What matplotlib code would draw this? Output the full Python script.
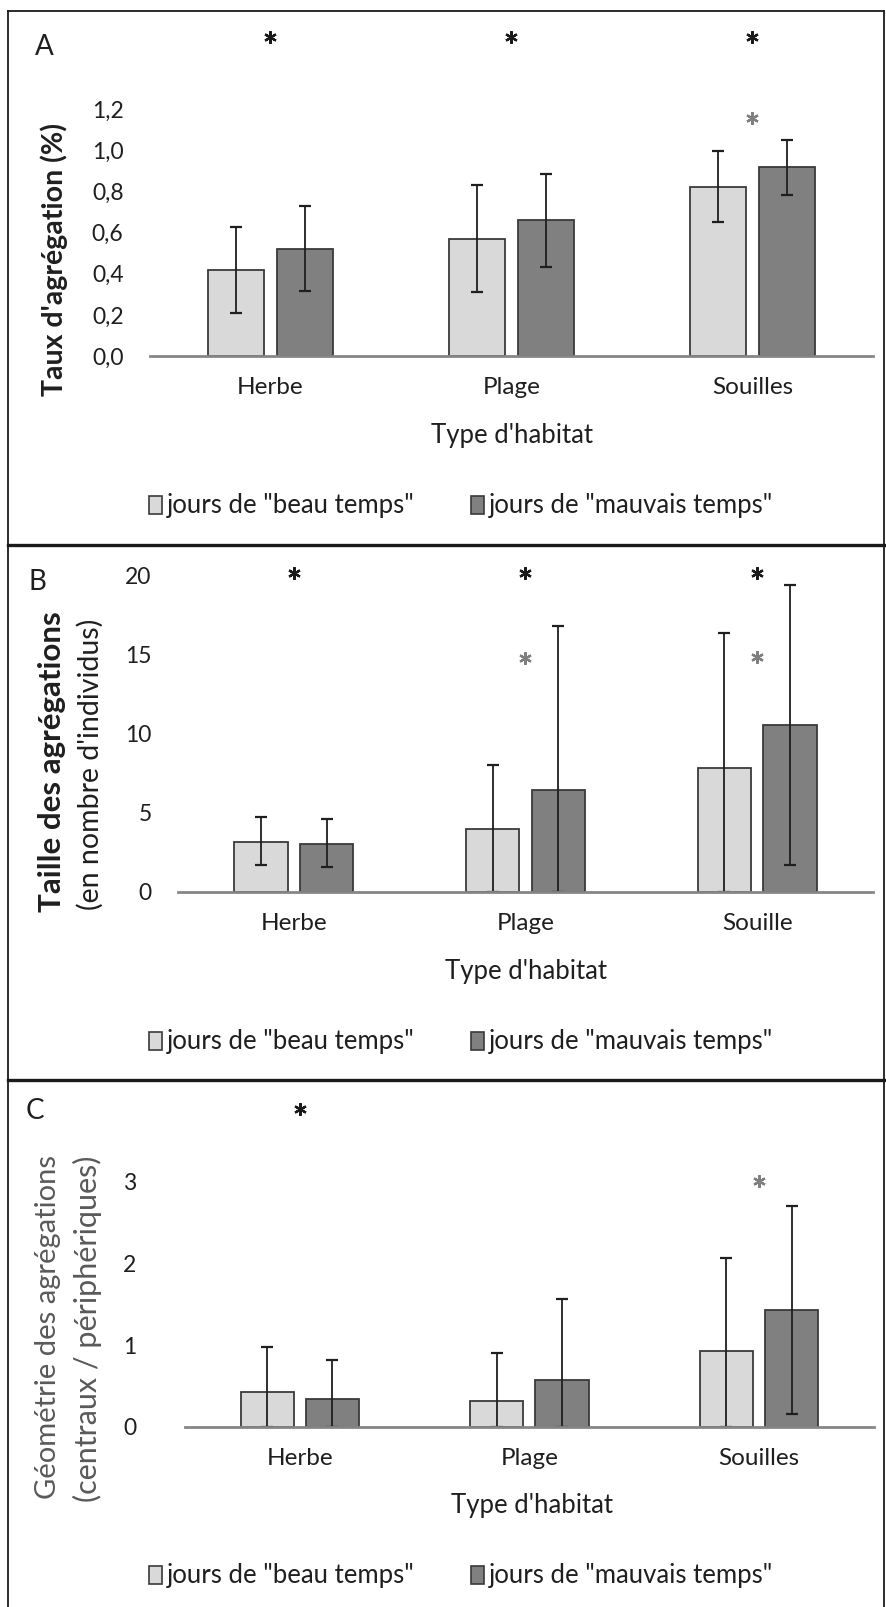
import matplotlib
matplotlib.use('Agg')
import matplotlib.pyplot as plt
from matplotlib.patches import Patch
from matplotlib.lines import Line2D
import numpy as np

plt.rcParams['font.family'] = ['Lato', 'DejaVu Sans']

# ---------------------------------------------------------------------------
# données
# ---------------------------------------------------------------------------
CATS_A = ['Herbe', 'Plage', 'Souilles']
CATS_B = ['Herbe', 'Plage', 'Souille']
CATS_C = ['Herbe', 'Plage', 'Souilles']

A_beau = [0.42, 0.57, 0.82]
A_beau_lo = [0.21, 0.31, 0.65]
A_beau_hi = [0.63, 0.83, 1.00]
A_mauv = [0.52, 0.66, 0.92]
A_mauv_lo = [0.315, 0.435, 0.785]
A_mauv_hi = [0.73, 0.885, 1.05]

B_beau = [3.16, 3.99, 7.85]
B_beau_lo = [1.67, 0.0, 0.0]
B_beau_hi = [4.73, 8.0, 16.35]
B_mauv = [3.02, 6.46, 10.57]
B_mauv_lo = [1.58, 0.0, 1.67]
B_mauv_hi = [4.62, 16.8, 19.41]

C_beau = [0.43, 0.315, 0.93]
C_beau_lo = [0.0, 0.0, 0.0]
C_beau_hi = [0.97, 0.906, 2.07]
C_mauv = [0.335, 0.57, 1.43]
C_mauv_lo = [0.0, 0.0, 0.155]
C_mauv_hi = [0.82, 1.56, 2.70]

# étoiles : (index catégorie, hauteur)
A_black_stars = [(0, 1.55), (1, 1.55), (2, 1.55)]
A_grey_stars = [(2, 1.16)]
B_black_stars = [(0, 20.2), (1, 20.2), (2, 20.2)]
B_grey_stars = [(1, 14.8), (2, 14.85)]
C_black_stars = [(0, 3.89)]
C_grey_stars = [(2, 3.01)]

A_ticks = [0.0, 0.2, 0.4, 0.6, 0.8, 1.0, 1.2]
A_ticklabels = ['0,0', '0,2', '0,4', '0,6', '0,8', '1,0', '1,2']
B_ticks = [0, 5, 10, 15, 20]
C_ticks = [0, 1, 2, 3]

LEG_LABELS = ['jours de "beau temps"', 'jours de "mauvais temps"']

# ---------------------------------------------------------------------------
W, H = 887, 1607
LIGHT = '#d9d9d9'
DARK = '#808080'
EDGE = '#3a3a3a'
TXT = '#1f1f1f'

fig = plt.figure(figsize=(W / 100, H / 100), dpi=100)


def px_axes(left, top, right, bottom):
    return fig.add_axes([left / W, 1 - bottom / H, (right - left) / W, (bottom - top) / H])


def draw_panel(ax, cats, v1, lo1, hi1, v2, lo2, hi2, ylim, ticks, ticklabels,
               ypad, black_stars, grey_stars):
    x = np.arange(len(cats))
    off, bw = 0.142, 0.232
    for xs, v, lo, hi, col in ((x - off, v1, lo1, hi1, LIGHT),
                               (x + off, v2, lo2, hi2, DARK)):
        v = np.array(v)
        ax.bar(xs, v, width=bw, color=col, edgecolor=EDGE, linewidth=1.3, zorder=2)
        ax.errorbar(xs, v, yerr=[v - np.array(lo), np.array(hi) - v], fmt='none',
                    ecolor=TXT, elinewidth=1.3, capsize=4.2, capthick=1.6, zorder=3)
    for i, yv in black_stars:
        ax.plot(i, yv, marker=(6, 2, 0), ms=9, mew=1.6, color='#1a1a1a',
                linestyle='none', clip_on=False)
    for i, yv in grey_stars:
        ax.plot(i, yv, marker=(6, 2, 0), ms=9, mew=1.6, color='#7f7f7f',
                linestyle='none', clip_on=False)
    ax.set_xlim(-0.5, len(cats) - 0.5)
    ax.set_ylim(*ylim)
    ax.set_yticks(ticks)
    ax.set_yticklabels(ticklabels)
    ax.set_xticks(x)
    ax.set_xticklabels(cats, fontsize=17.5)
    for s in ('top', 'right', 'left'):
        ax.spines[s].set_visible(False)
    ax.spines['bottom'].set_color('#868686')
    ax.spines['bottom'].set_linewidth(2.0)
    ax.spines['bottom'].set_zorder(4)
    ax.tick_params(axis='both', length=0, colors=TXT)
    ax.tick_params(axis='y', pad=ypad, labelsize=16.5)
    ax.tick_params(axis='x', pad=15)
    ax.set_facecolor('none')


def add_legend(y_px, x_px=461):
    handles = [Patch(facecolor=LIGHT, edgecolor=EDGE, linewidth=1.2),
               Patch(facecolor=DARK, edgecolor=EDGE, linewidth=1.2)]
    fig.legend(handles, LEG_LABELS, loc='center', ncol=2, frameon=False,
               bbox_to_anchor=(x_px / W, 1 - y_px / H), fontsize=18.5,
               handlelength=0.5, handleheight=0.7, handletextpad=0.2,
               columnspacing=2.2, labelcolor=TXT)


def ftext(x, y, s, **kw):
    kw.setdefault('color', TXT)
    fig.text(x / W, 1 - y / H, s, **kw)


# ---- A ----
axA = px_axes(150, 356 - 1.6 * 205.5, 873, 356)
draw_panel(axA, CATS_A, A_beau, A_beau_lo, A_beau_hi, A_mauv, A_mauv_lo, A_mauv_hi,
           (0, 1.6), A_ticks, A_ticklabels, 19, A_black_stars, A_grey_stars)
ftext(44, 47, 'A', fontsize=20, ha='center', va='center')
ftext(54, 260, "Taux d'agrégation (%)", fontsize=20.5, fontweight='bold',
      rotation=90, ha='center', va='center')
ftext(512, 435, "Type d'habitat", fontsize=18.5, ha='center', va='center')
add_legend(506)

# ---- B ----
axB = px_axes(177.7, 891.7 - 21 * 15.8, 873.3, 891.7)
draw_panel(axB, CATS_B, B_beau, B_beau_lo, B_beau_hi, B_mauv, B_mauv_lo, B_mauv_hi,
           (0, 21), B_ticks, [str(t) for t in B_ticks], 18.8, B_black_stars, B_grey_stars)
ftext(37, 582, 'B', fontsize=20, ha='center', va='center')
ftext(52, 762, 'Taille des agrégations', fontsize=22.5, fontweight='bold',
      rotation=90, ha='center', va='center')
ftext(90, 764, "(en nombre d'individus)", fontsize=20.5, rotation=90,
      ha='center', va='center')
ftext(526, 971, "Type d'habitat", fontsize=18.5, ha='center', va='center')
add_legend(1042)

# ---- C ----
axC = px_axes(185, 1426.7 - 4.2 * 81.7, 873.7, 1426.7)
draw_panel(axC, CATS_C, C_beau, C_beau_lo, C_beau_hi, C_mauv, C_mauv_lo, C_mauv_hi,
           (0, 4.2), C_ticks, [str(t) for t in C_ticks], 35, C_black_stars, C_grey_stars)
ftext(35, 1111, 'C', fontsize=20, ha='center', va='center')
ftext(48, 1327, 'Géométrie des agrégations', fontsize=21, color='#595959',
      rotation=90, ha='center', va='center')
ftext(87, 1329, '(centraux / périphériques)', fontsize=22, color='#595959',
      rotation=90, ha='center', va='center')
ftext(532, 1505, "Type d'habitat", fontsize=18.5, ha='center', va='center')
add_legend(1576)

# ---- cadres ----
def fline(x0, y0, x1, y1, lw, color='#1a1a1a'):
    fig.add_artist(Line2D([x0 / W, x1 / W], [1 - y0 / H, 1 - y1 / H],
                          transform=fig.transFigure, lw=lw, color=color))

fline(8.5, 11, 884, 11, 1.3)
fline(8.5, 11, 8.5, H, 1.3)
fline(884, 11, 884, H, 1.3)
fline(8.5, 545, 884, 545, 2.4)
fline(8.5, 1080, 884, 1080, 2.4)

fig.savefig('out.png', dpi=100, facecolor='white')
